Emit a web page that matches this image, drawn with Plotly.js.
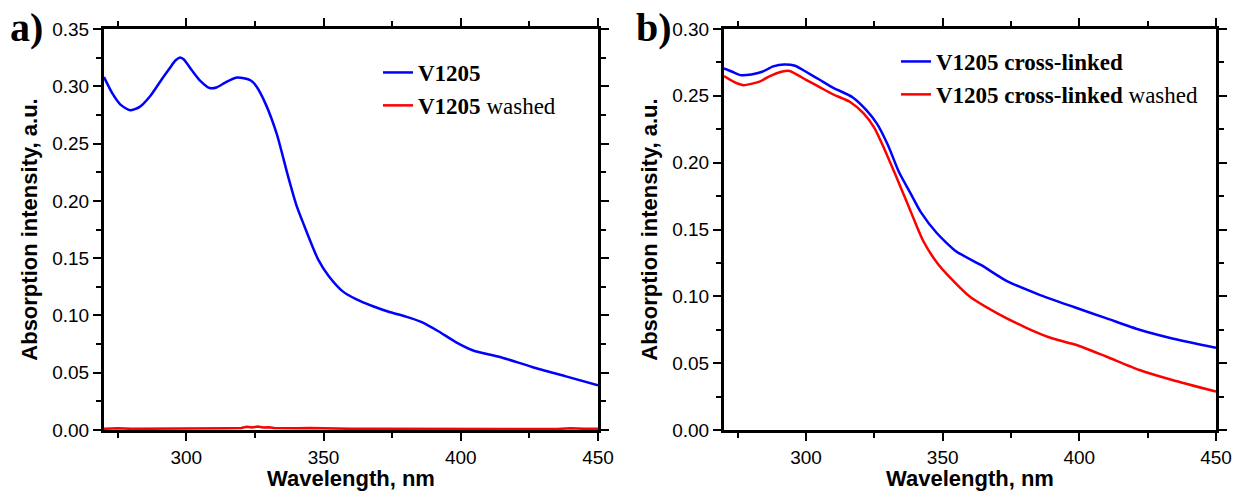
<!DOCTYPE html>
<html>
<head>
<meta charset="utf-8">
<script src="https://cdn.plot.ly/plotly-3.0.1.min.js"></script>
<style>html,body{margin:0;padding:0;background:#fff}#chart{width:1236px;height:491px}</style>
</head>
<body>
<div id="chart"></div>
<script>
// Panel a) V1205
const wlA = [270,273,276,279.5,283,287,291,294,296,297.5,299,302,305,308.5,311,314,318,321,323.5,325.5,329,333,337,340,343,346,348,352,357,362,368,374,380,386,392,398,405,414,426,438,450];
const absA = [0.308,0.294,0.284,0.279,0.282,0.292,0.306,0.316,0.3225,0.325,0.3235,0.314,0.305,0.2985,0.299,0.303,0.3075,0.307,0.305,0.300,0.284,0.258,0.222,0.197,0.178,0.160,0.149,0.134,0.121,0.114,0.108,0.103,0.099,0.094,0.086,0.077,0.069,0.064,0.055,0.047,0.039];
const wlAw = [270,275,280,285,290,295,300,305,310,315,320,322,324,326,328,330,332,335,340,345,350,355,360,370,380,390,400,410,420,430,435,440,445,450];
const absAw = [0.001,0.0015,0.001,0.001,0.0012,0.001,0.001,0.0012,0.0015,0.0015,0.0018,0.0028,0.0022,0.003,0.0022,0.0025,0.0018,0.0015,0.0015,0.0018,0.0015,0.0012,0.001,0.001,0.001,0.001,0.001,0.001,0.001,0.001,0.0008,0.0015,0.001,0.0012];

// Panel b) V1205 cross-linked
const wlB = [270,273,276,280,284,288,292,296,300,305,310,317,322,326,330,334,338,342,348,355,364,373,385,398,410,422,434,450];
const absB = [0.2705,0.268,0.2655,0.266,0.268,0.272,0.2735,0.2725,0.268,0.262,0.256,0.249,0.2395,0.229,0.213,0.193,0.178,0.163,0.147,0.1335,0.1235,0.112,0.1015,0.092,0.0835,0.075,0.0685,0.0615];
const wlBw = [270,274,277,283,287,291,294,300,305,310,316,321,325,328.5,332.5,337,340,343,348,353,360,370,381,390,399,410,422,434,450];
const absBw = [0.2648,0.260,0.258,0.2606,0.265,0.268,0.2686,0.262,0.2565,0.251,0.2456,0.237,0.226,0.211,0.192,0.170,0.155,0.141,0.125,0.1135,0.0997,0.0873,0.0761,0.0686,0.0636,0.0548,0.0449,0.0374,0.0287];

const namesA = ['<b>V1205</b>', '<b>V1205</b> washed'];
const namesB = ['<b>V1205 cross-linked</b>', '<b>V1205 cross-linked</b> washed'];
const xTitle = 'Wavelength, nm';
const yTitle = 'Absorption intensity, a.u.';
const panelLabels = ['a)', 'b)'];

const blue = '#0000ff', red = '#ff0000';
const ln = (c) => ({color: c, width: 2.5, shape: 'spline', smoothing: 0.6});
const traces = [
  {x: wlA, y: absA, name: namesA[0], xaxis: 'x', yaxis: 'y', legend: 'legend', mode: 'lines', line: ln(blue)},
  {x: wlAw, y: absAw, name: namesA[1], xaxis: 'x', yaxis: 'y', legend: 'legend', mode: 'lines', line: {color: red, width: 2.5}},
  {x: wlB, y: absB, name: namesB[0], xaxis: 'x2', yaxis: 'y2', legend: 'legend2', mode: 'lines', line: ln(blue)},
  {x: wlBw, y: absBw, name: namesB[1], xaxis: 'x2', yaxis: 'y2', legend: 'legend2', mode: 'lines', line: ln(red)}
];

const tickFont = {family: 'Liberation Sans, Arial, sans-serif', size: 19, color: '#000'};
const yTitleFont = {family: 'Liberation Sans, Arial, sans-serif', size: 22, color: '#000', weight: 'bold'};
const xTitleFont = {family: 'Liberation Sans, Arial, sans-serif', size: 22, color: '#000', weight: 'bold'};
function xax(dom, anchor) {
  return {domain: dom, anchor: anchor, range: [270, 450], tick0: 0, dtick: 50,
    showline: true, linewidth: 3, linecolor: '#000', mirror: 'ticks',
    ticks: 'outside', ticklen: 8, tickwidth: 2, tickcolor: '#000',
    minor: {dtick: 25, tick0: 0, ticks: 'outside', ticklen: 5, tickwidth: 2, tickcolor: '#000'},
    showgrid: false, zeroline: false, tickfont: tickFont,
    title: {text: xTitle, font: xTitleFont, standoff: 8}};
}
function yax(maxv, anchor) {
  return {domain: [0, 1], anchor: anchor, range: [0, maxv], dtick: 0.05, tickformat: '.2f',
    showline: true, linewidth: 3, linecolor: '#000', mirror: 'ticks',
    ticks: 'outside', ticklen: 8, tickwidth: 2, tickcolor: '#000',
    minor: {dtick: 0.025, ticks: 'outside', ticklen: 5, tickwidth: 2, tickcolor: '#000'},
    showgrid: false, zeroline: false, tickfont: tickFont,
    title: {text: yTitle, font: yTitleFont, standoff: 9}};
}
const legFont = {family: 'Liberation Serif, Times New Roman, serif', size: 23, color: '#000'};
const layout = {
  width: 1236, height: 491,
  margin: {l: 0, r: 0, t: 29, b: 61},
  paper_bgcolor: '#fff', plot_bgcolor: '#fff',
  xaxis: xax([104/1236, 598/1236], 'y'),
  yaxis: yax(0.35, 'x'),
  xaxis2: xax([724/1236, 1216/1236], 'y2'),
  yaxis2: yax(0.30, 'x2'),
  legend: {x: 378/1236, y: 1 - (51-29)/401, xanchor: 'left', yanchor: 'top', xref: 'paper', yref: 'paper',
    font: legFont, bgcolor: 'rgba(0,0,0,0)', borderwidth: 0, tracegroupgap: 0},
  legend2: {x: 896/1236, y: 1 - (40-29)/401, xanchor: 'left', yanchor: 'top', xref: 'paper', yref: 'paper',
    font: legFont, bgcolor: 'rgba(0,0,0,0)', borderwidth: 0, tracegroupgap: 0},
  showlegend: true,
  annotations: [
    {text: '<b>' + panelLabels[0] + '</b>', x: 8/1236, y: 1 - (52-29)/401, xref: 'paper', yref: 'paper', xanchor: 'left', yanchor: 'bottom', showarrow: false, font: {family: 'Liberation Serif, Times New Roman, serif', size: 40, color: '#000'}},
    {text: '<b>' + panelLabels[1] + '</b>', x: 634/1236, y: 1 - (52-29)/401, xref: 'paper', yref: 'paper', xanchor: 'left', yanchor: 'bottom', showarrow: false, font: {family: 'Liberation Serif, Times New Roman, serif', size: 40, color: '#000'}}
  ]
};
Plotly.newPlot('chart', traces, layout, {displayModeBar: false, staticPlot: true});
</script>
</body>
</html>
